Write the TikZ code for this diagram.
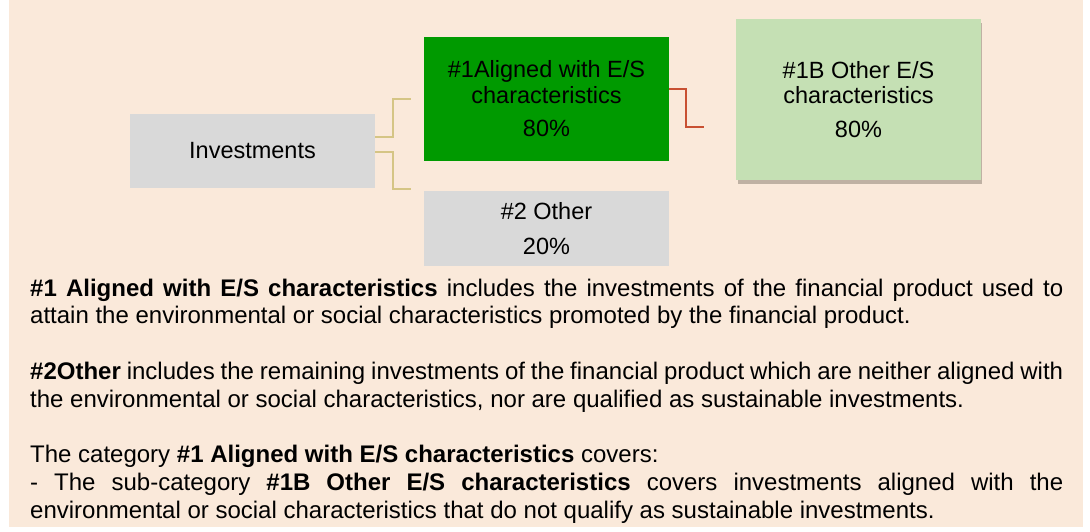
\documentclass[tikz,border=0pt]{standalone}
\usepackage{fontspec}
\setmainfont{Liberation Sans}
\usetikzlibrary{shapes,arrows,positioning,calc}

\definecolor{bgbeige}{HTML}{FAE9DA}
\definecolor{boxgrey}{HTML}{D9D9D9}
\definecolor{boxgreen}{HTML}{009A00}
\definecolor{lightgreen}{HTML}{C5E0B4}
\definecolor{shadowgrey}{HTML}{BFB1A3}
\definecolor{tanline}{HTML}{D5C585}
\definecolor{linkred}{RGB}{200,80,50}

\begin{document}
\begin{tikzpicture}[x=1pt, y=-1pt]

% Define styles
\tikzstyle{category} = [rectangle, minimum width=245pt, text centered, align=center, inner sep=0pt, font=\fontsize{23.5}{25.5}\selectfont]
\tikzstyle{tanlink} = [color=tanline, line width=1.8pt]
\tikzstyle{redlink} = [color=linkred, line width=1.8pt]

% Page and background
\useasboundingbox (0,0) rectangle (1090,531);
\fill[bgbeige] (9,0) rectangle (1083,527);

% Category boxes
\node (inv) [category, fill=boxgrey, minimum height=74pt] at (252.5,151) {Investments};
\node (aligned) [category, fill=boxgreen, minimum height=124pt] at (546.5,99) {\#1Aligned with E/S\\characteristics\\[8pt]80\%};
\node (other) [category, fill=boxgrey, minimum height=75pt] at (546.5,228.5) {\#2 Other\\[9pt]20\%};
\fill[shadowgrey] (737.5,23) rectangle (982,184);
\node (other_es) [category, fill=lightgreen, minimum height=161pt] at (858.5,99.5) {\#1B Other E/S\\characteristics\\[8pt]80\%};

% Connector ends
\coordinate (inv_up) at ($(inv.east)+(0,-14.3)$);
\coordinate (inv_down) at ($(inv.east)+(0,0.7)$);
\coordinate (aligned_end) at (411,99);
\coordinate (other_end) at (411,189);
\coordinate (al_out) at ($(aligned.east)+(0,-9.7)$);
\coordinate (es_end) at (703.6,127.3);

% Connect categories
\draw [tanlink] (inv_up) -| (393,99) -- (aligned_end);
\draw [tanlink] (inv_down) -| (393,189) -- (other_end);
\draw [redlink] (al_out) -| (685.6,127.3) -- (es_end);

% Explanations
\node (notes) [anchor=north west, text width=1033pt, align=justify, inner sep=0pt, font=\fontsize{24}{27.8}\selectfont] at (30,278.5) {%
\textbf{\#1 Aligned with E/S characteristics} includes the investments of the financial product used to\linebreak
attain the environmental or social characteristics promoted by the financial product.\\[27.8pt]
\textbf{\#2Other} includes the remaining investments of the financial product which are neither aligned with\linebreak
the environmental or social characteristics, nor are qualified as sustainable investments.\\[27.8pt]
The category \textbf{\#1 Aligned with E/S characteristics} covers:\\
- The sub-category \textbf{\#1B Other E/S characteristics} covers investments aligned with the\linebreak
environmental or social characteristics that do not qualify as sustainable investments.};

\end{tikzpicture}
\end{document}
